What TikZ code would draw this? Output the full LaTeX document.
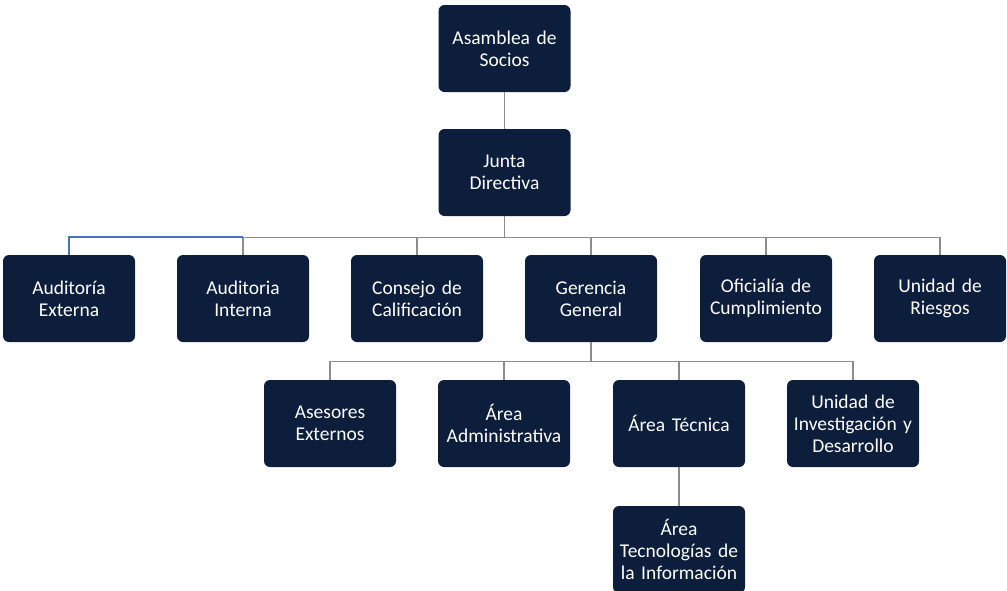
\documentclass[tikz,border=0pt]{standalone}
\usepackage{fontspec}
\setmainfont[WordSpace=0.8]{Carlito}
\definecolor{boxnavy}{RGB}{12,30,60}
\definecolor{linegray}{RGB}{140,140,140}
\definecolor{lineblue}{RGB}{68,114,196}
\begin{document}
\begin{tikzpicture}[x=1pt,y=-1pt,
  unit/.style={fill=boxnavy, rounded corners=6pt, minimum width=132pt, minimum height=87pt,
    text width=130pt, align=center, text=white, inner sep=0pt,
    font=\fontsize{19.5}{21.8}\selectfont},
  conn/.style={draw=linegray, line width=1.4pt},
  connb/.style={draw=lineblue, line width=1.4pt}]
\useasboundingbox (0,0) rectangle (1007,590);
\begin{scope}
\clip (0,0) rectangle (1007,590);
% top levels
\node[unit] (asam) at (504.5,48.5) {Asamblea de\\Socios};
\node[unit] (junta) at (504.5,172.5) {Junta\\Directiva};
% second level
\node[unit] (aext) at (69,298.5) {Auditoría\\Externa};
\node[unit] (aint) at (243,298.5) {Auditoria\\Interna};
\node[unit] (cons) at (417,298.5) {Consejo de\\Calificación};
\node[unit] (ger) at (591,298.5) {Gerencia\\General};
\node[unit] (ofi) at (766,298.5) {Oficialía de\\Cumplimiento};
\node[unit] (ries) at (940,298.5) {Unidad de\\Riesgos};
% third level
\node[unit] (ases) at (330,423.5) {Asesores\\Externos};
\node[unit] (adm) at (504,423.5) {Área\\Administrativa};
\node[unit] (tec) at (679,423.5) {Área Técnica};
\node[unit] (inv) at (853,423.5) {Unidad de\\Investigación y\\Desarrollo};
% fourth level
\node[unit] (ti) at (679,549.5) {Área\\Tecnologías de\\la Información};
% connectors
\draw[conn] (asam) -- (junta);
\foreach \c in {aint,cons,ger,ofi,ries,aext}
  \draw[conn] (junta.south) -- ++(0,21) -| (\c.north);
\draw[connb] (aint.north |- 0,237) -| (aext.north);
\foreach \c in {ases,adm,tec,inv}
  \draw[conn] (ger.south) -- ++(0,19) -| (\c.north);
\draw[conn] (tec) -- (ti);
\end{scope}
\end{tikzpicture}
\end{document}
